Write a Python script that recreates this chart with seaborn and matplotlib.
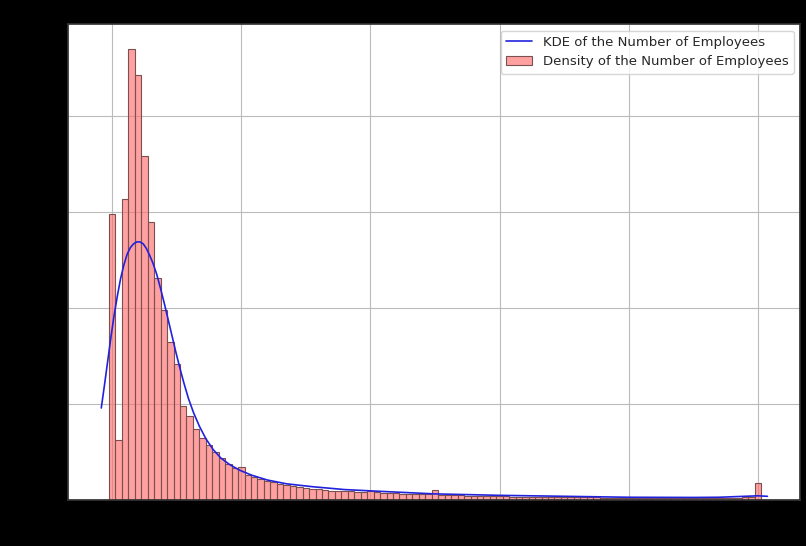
import matplotlib
matplotlib.use("Agg")
import matplotlib.pyplot as plt
import seaborn as sns
import numpy as np
import pandas as pd

sns.set_theme(style="whitegrid")
plt.rcParams['font.family'] = ['DejaVu Sans']

# histogram: bin width of 100 employees, starting at -50, densities (x 1e-4)
bin_width = 100
bin_start = -50
bin_density = [
    2.98, 0.63, 3.14, 4.70, 4.43, 3.59, 2.90, 2.31, 1.98, 1.65,
    1.42, 0.98, 0.875, 0.74, 0.65, 0.57, 0.50, 0.44, 0.38, 0.33,
    0.35, 0.26, 0.24, 0.22, 0.20, 0.19, 0.17, 0.16, 0.15, 0.14,
    0.13, 0.12, 0.12, 0.11, 0.10, 0.10, 0.09, 0.09, 0.08, 0.08,
    0.10, 0.08, 0.07, 0.07, 0.07, 0.06, 0.06, 0.06, 0.06, 0.06,
    0.11, 0.05, 0.05, 0.05, 0.05, 0.04, 0.04, 0.04, 0.04, 0.04,
    0.04, 0.04, 0.03, 0.03, 0.03, 0.03, 0.03, 0.03, 0.03, 0.03,
    0.03, 0.03, 0.03, 0.03, 0.03, 0.03, 0.02, 0.02, 0.02, 0.02,
    0.02, 0.02, 0.02, 0.02, 0.02, 0.02, 0.02, 0.02, 0.02, 0.02,
    0.02, 0.02, 0.02, 0.02, 0.02, 0.02, 0.02, 0.02, 0.03, 0.03,
    0.18,
]

# KDE curve (x 1e-4)
kde_x = [-170, -120, -70, -20, 30, 80, 130, 180, 230, 280, 330, 380, 430, 480,
         530, 580, 630, 690, 750, 810, 870, 930, 990, 1050, 1110, 1180, 1260,
         1350, 1450, 1560, 1680, 1820, 1980, 2160, 2400, 2700, 3100, 3600, 4200,
         5000, 6000, 7000, 8000, 9000, 9400, 9800, 10000, 10150]
kde_y = [0.96, 1.20, 1.45, 1.70, 1.93, 2.13, 2.31, 2.45, 2.56, 2.63, 2.67, 2.69, 2.69, 2.67,
         2.62, 2.55, 2.47, 2.35, 2.20, 2.04, 1.87, 1.70, 1.53, 1.37, 1.22, 1.06, 0.91,
         0.77, 0.64, 0.53, 0.44, 0.37, 0.31, 0.26, 0.21, 0.17, 0.14, 0.11, 0.09,
         0.065, 0.05, 0.04, 0.03, 0.028, 0.03, 0.04, 0.045, 0.04]

n_bins = len(bin_density)
hist_df = pd.DataFrame({'employees': bin_start + np.arange(n_bins) * bin_width + bin_width / 2,
                        'density': bin_density})

fig = plt.figure(figsize=(8.06, 5.46), dpi=100, facecolor='black')
ax = fig.add_axes([0.084, 0.084, 0.909, 0.872])
ax.set_facecolor('white')

sns.histplot(data=hist_df, x='employees', weights='density',
             binwidth=bin_width, binrange=(bin_start, bin_start + n_bins * bin_width),
             color='#ff6f6f', alpha=0.65,
             edgecolor='#7a5050', linewidth=0.8, ax=ax,
             label='Density of the Number of Employees')
sns.lineplot(x=kde_x, y=kde_y, color='#2222dd', linewidth=1.2,
             ax=ax, label='KDE of the Number of Employees')

ax.set_xlim(-690, 10660)
ax.set_ylim(0, 4.96)
ax.set_xticks(range(0, 10001, 2000))
ax.set_yticks(range(0, 5))
ax.grid(True, color='#bbbbbb', linewidth=0.8)
for s in ax.spines.values():
    s.set_color('#333333')

ax.set_title('Distribution of the Number of Employees', color='black')
ax.set_xlabel('Number of Employees', color='black', labelpad=1)
ax.set_ylabel('Density (x 1e-4)', color='black', labelpad=2)
ax.tick_params(colors='black', labelsize=9)
ax.legend(loc='upper right', fontsize=9.5)

fig.savefig('out.png', dpi=100, facecolor='black')
